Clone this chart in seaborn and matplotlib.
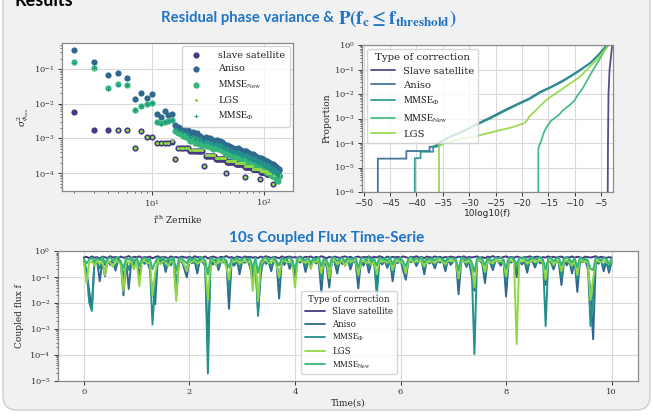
import numpy as np
import pandas as pd
import matplotlib
matplotlib.use('Agg')
import matplotlib.pyplot as plt
import matplotlib.transforms as mtransforms
from matplotlib.patches import FancyBboxPatch
from matplotlib.lines import Line2D
import seaborn as sns

# ---------------- residual phase variance per Zernike mode (2..136)
zernike = list(range(2, 137))
slave_var = ([5.9e-3, 1.8e-3, 1.8e-3, 1.8e-3, 1.8e-3, 5.2e-4, 1.6e-3, 1.07e-3, 1.07e-3]
             + [7.2e-4] * 4 + [8.0e-4] + [2.5e-4] + [5.2e-4] * 5 + [4.3e-4] * 7
             + [1.6e-4] + [3.1e-4] * 7 + [2.6e-4] * 9 + [1.0e-4] + [2.1e-4] * 9
             + [1.8e-4] * 11 + [7.9e-5] + [1.5e-4] * 11 + [1.3e-4] * 13 + [6.6e-5]
             + [1.1e-4] * 13 + [9.5e-5] * 15 + [4.9e-5] + [8.5e-5] * 15)
lgs_var = ([0.14, 0.10, 0.026, 1.8e-3, 1.8e-3, 5.2e-4, 1.6e-3, 1.07e-3, 1.07e-3]
           + [7.4e-4] * 4 + [8.2e-4] + [2.5e-4] + [5.4e-4] * 5 + [4.5e-4] * 7
           + [1.6e-4] + [3.3e-4] * 7 + [2.75e-4] * 9 + [1.0e-4] + [2.2e-4] * 9
           + [1.9e-4] * 11 + [7.9e-5] + [1.6e-4] * 11 + [1.35e-4] * 13 + [6.6e-5]
           + [1.15e-4] * 13 + [1.0e-4] * 15 + [4.9e-5] + [8.8e-5] * 15)
# values below in units of 1e-4
aniso_var = np.array([
    3500, 1600, 660, 750, 540, 137, 200, 149, 194, 50, 42, 60, 46, 52,
    24, 21, 20, 19, 18, 17,
    13, 15, 12, 14, 11, 12, 10,
    9.5, 11, 10, 9, 10.5, 8.5, 9, 8,
    8, 9, 7.5, 8.5, 7, 8, 6.5, 7, 6,
    6, 6.5, 5.5, 6, 5, 5.5, 4.8, 5.2, 4.6, 5,
    5, 4.6, 5.2, 4.4, 4.8, 4.2, 4.5, 4, 4.3, 3.8, 4,
    4.2, 3.8, 4.4, 3.6, 4, 3.4, 3.8, 3.2, 3.6, 3.1, 3.4, 3,
    3.5, 3.1, 3.4, 2.9, 3.2, 2.8, 3, 2.6, 2.9, 2.5, 2.7, 2.4, 2.6,
    2.8, 2.4, 2.7, 2.3, 2.6, 2.2, 2.5, 2.1, 2.4, 2, 2.3, 1.9, 2.2, 1.9,
    2.2, 1.9, 2.1, 1.8, 2, 1.7, 1.9, 1.6, 1.8, 1.6, 1.7, 1.5, 1.7, 1.5, 1.6,
    1.8, 1.5, 1.7, 1.4, 1.6, 1.3, 1.5, 1.3, 1.4, 1.2, 1.4, 1.2, 1.3, 1.1, 1.3, 1.2]) * 1e-4
new_var = np.array([
    1560, 1100, 280, 360, 350, 66, 85, 100, 107, 29.6, 27, 29.6, 32, 34,
    16, 14, 13, 12, 11, 10,
    8.5, 10, 7.5, 9, 7, 8, 6.5,
    6.5, 7.5, 6, 6.8, 5.5, 6.2, 5, 5.8,
    5.5, 6, 4.8, 5.5, 4.5, 5, 4.2, 4.6, 3.9,
    4, 4.4, 3.6, 4, 3.4, 3.8, 3.2, 3.5, 3, 3.3,
    3.3, 3, 3.5, 2.8, 3.2, 2.7, 3, 2.5, 2.8, 2.4, 2.6,
    2.7, 2.4, 2.9, 2.3, 2.6, 2.1, 2.5, 2, 2.3, 1.9, 2.2, 1.8,
    2.2, 1.9, 2.3, 1.8, 2.1, 1.7, 2, 1.6, 1.9, 1.5, 1.8, 1.4, 1.6,
    1.8, 1.5, 1.8, 1.4, 1.7, 1.3, 1.6, 1.2, 1.5, 1.2, 1.4, 1.1, 1.3, 1.1,
    1.4, 1.1, 1.4, 1.05, 1.3, 1, 1.25, 0.95, 1.2, 0.9, 1.1, 0.85, 1.05, 0.8, 1,
    1.1, 0.85, 1.1, 0.8, 1, 0.75, 0.95, 0.7, 0.9, 0.65, 0.85, 0.6, 0.8, 0.75, 0.9, 0.85]) * 1e-4
phi_var = np.array([
    1500, 1050, 270, 350, 340, 64, 83, 97, 104, 29, 26.5, 29, 31, 33,
    20, 17, 16, 15, 14, 13,
    11, 12, 9.5, 11, 9, 10, 8.5,
    8, 9, 8, 8, 7.5, 7.5, 7, 7,
    6.8, 7.5, 6, 7, 5.8, 6.5, 5.3, 5.8, 5,
    5, 5.5, 4.6, 5, 4.2, 4.6, 4, 4.4, 3.8, 4.1,
    4.1, 3.8, 4.3, 3.6, 4, 3.4, 3.7, 3.2, 3.5, 3.1, 3.3,
    3.4, 3.1, 3.6, 2.9, 3.3, 2.7, 3.1, 2.6, 2.9, 2.5, 2.8, 2.4,
    2.8, 2.5, 2.8, 2.3, 2.6, 2.2, 2.5, 2.1, 2.4, 2, 2.2, 1.9, 2.1,
    2.3, 1.9, 2.2, 1.8, 2.1, 1.7, 2, 1.6, 1.9, 1.6, 1.8, 1.5, 1.7, 1.5,
    1.8, 1.5, 1.7, 1.4, 1.6, 1.3, 1.55, 1.25, 1.5, 1.2, 1.4, 1.1, 1.35, 1.05, 1.3,
    1.4, 1.1, 1.35, 1.05, 1.3, 1.0, 1.2, 0.95, 1.15, 0.9, 1.1, 0.85, 1.05, 0.9, 1.1, 1.0]) * 1e-4

# ---------------- cumulative proportion vs 10log10(f)
cdf_slave_x = [-3.75, -3.7, -3.6, -3.4, -2.9]
cdf_slave_y = [1e-6, 1e-4, 1e-2, 1e-1, 1.0]
cdf_aniso_x = [-47.3, -47.3, -41.9, -41.9, -37.5, -37.5, -36.2, -36.2, -35.0, -33.7, -31.0, -28.7,
               -26.0, -23.3, -21.0, -18.6, -16.5, -14.5, -12.0, -9.2, -7.0, -5.5, -3.9]
cdf_aniso_y = [1e-6, 2.3e-5, 2.3e-5, 4.7e-5, 4.7e-5, 7e-5, 7e-5, 9e-5, 1.2e-4, 1.8e-4, 3.2e-4, 5.8e-4,
               1.1e-3, 2.2e-3, 3.8e-3, 6.6e-3, 1.25e-2, 1.95e-2, 3.8e-2, 9e-2, 1.9e-1, 4.0e-1, 1.0]
cdf_phi_x = [-40.3, -40.3, -39.2, -39.2, -36.8, -36.8, -35.6, -35.6, -34.0, -31.0, -28.7, -26.0,
             -23.3, -21.0, -18.6, -16.5, -14.5, -12.0, -9.2, -7.0, -5.5, -3.9]
cdf_phi_y = [1e-6, 2.4e-5, 2.4e-5, 4.4e-5, 4.4e-5, 7.5e-5, 7.5e-5, 1.1e-4, 1.6e-4, 3.0e-4, 5.4e-4, 1.0e-3,
             2.0e-3, 3.5e-3, 6.1e-3, 1.15e-2, 1.85e-2, 3.5e-2, 8.5e-2, 1.85e-1, 3.9e-1, 1.0]
cdf_new_x = [-16.9, -16.9, -16.6, -16.3, -15.9, -15.4, -14.5, -13.0, -12.2, -11.0, -10.1, -9.6,
             -8.5, -6.9, -5.5, -3.8]
cdf_new_y = [1e-6, 6e-5, 9e-5, 1.3e-4, 2.5e-4, 4.2e-4, 8e-4, 1.4e-3, 2.2e-3, 3.5e-3, 5.2e-3, 7.9e-3,
             1.7e-2, 7e-2, 0.22, 1.0]
cdf_lgs_x = [-35.7, -35.7, -35.2, -34.5, -32.0, -28.7, -25.0, -22.0, -19.5, -19.0, -18.6, -17.0,
             -15.4, -12.2, -9.0, -5.9, -3.5]
cdf_lgs_y = [1e-6, 8e-5, 8.5e-5, 1e-4, 1.4e-4, 1.9e-4, 3.0e-4, 4.3e-4, 6.5e-4, 8.5e-4, 1.2e-3, 2.6e-3,
             5.7e-3, 1.7e-2, 5.1e-2, 0.24, 1.0]

# ---------------- coupled flux over 10 s (one sample every 0.05 s)
flux_slave = [
    0.58, 0.62, 0.55, 0.64, 0.57, 0.60, 0.53, 0.63, 0.59, 0.56, 0.65, 0.58, 0.61, 0.54, 0.63, 0.57, 0.60, 0.66, 0.55, 0.62,
    0.59, 0.64, 0.56, 0.61, 0.58, 0.63, 0.54, 0.60, 0.65, 0.57, 0.62, 0.59, 0.55, 0.64, 0.58, 0.61, 0.56, 0.63, 0.60, 0.57,
    0.62, 0.55, 0.65, 0.59, 0.61, 0.57, 0.64, 0.53, 0.60, 0.63, 0.58, 0.56, 0.62, 0.59, 0.66, 0.57, 0.61, 0.54, 0.63, 0.60,
    0.56, 0.64, 0.59, 0.62, 0.57, 0.61, 0.55, 0.63, 0.58, 0.65, 0.60, 0.56, 0.62, 0.59, 0.54, 0.64, 0.57, 0.61, 0.63, 0.58,
    0.60, 0.57, 0.63, 0.55, 0.62, 0.59, 0.64, 0.56, 0.61, 0.58, 0.65, 0.60, 0.54, 0.62, 0.57, 0.63, 0.59, 0.56, 0.61, 0.64,
    0.58, 0.62, 0.55, 0.60, 0.63, 0.57, 0.61, 0.59, 0.64, 0.56, 0.62, 0.58, 0.65, 0.60, 0.55, 0.63, 0.57, 0.61, 0.59, 0.62,
    0.57, 0.64, 0.60, 0.56, 0.62, 0.59, 0.65, 0.58, 0.61, 0.55, 0.63, 0.60, 0.57, 0.64, 0.59, 0.62, 0.56, 0.61, 0.58, 0.63,
    0.60, 0.57, 0.63, 0.59, 0.65, 0.56, 0.62, 0.58, 0.61, 0.64, 0.57, 0.60, 0.55, 0.63, 0.59, 0.66, 0.58, 0.62, 0.56, 0.61,
    0.64, 0.58, 0.61, 0.57, 0.63, 0.60, 0.55, 0.62, 0.59, 0.65, 0.57, 0.61, 0.63, 0.56, 0.60, 0.58, 0.64, 0.59, 0.62, 0.57,
    0.61, 0.63, 0.56, 0.60, 0.58, 0.64, 0.57, 0.62, 0.59, 0.55, 0.63, 0.60, 0.58, 0.61, 0.65, 0.57, 0.62, 0.59, 0.56, 0.60,
    0.58]
flux_aniso = [
    0.42, 0.15, 0.03, 0.006, 0.38, 0.45, 0.07, 0.40, 0.11, 0.47, 0.30, 0.44, 0.18, 0.50, 0.36, 0.02, 0.41, 0.035, 0.46, 0.25,
    0.43, 0.12, 0.48, 0.33, 0.40, 0.20, 0.03, 0.009, 0.44, 0.37, 0.49, 0.16, 0.42, 0.29, 0.46, 0.02, 0.38, 0.45, 0.22, 0.10,
    0.47, 0.35, 0.41, 0.14, 0.50, 0.39, 0.27, 0.0002, 0.44, 0.31, 0.48, 0.19, 0.42, 0.37, 0.45, 0.006, 0.40, 0.28, 0.47, 0.13,
    0.43, 0.36, 0.49, 0.24, 0.08, 0.41, 0.005, 0.12, 0.46, 0.33, 0.40, 0.17, 0.48, 0.38, 0.015, 0.44, 0.30, 0.47, 0.21, 0.42,
    0.09, 0.45, 0.37, 0.50, 0.16, 0.41, 0.29, 0.46, 0.34, 0.43, 0.025, 0.48, 0.26, 0.04, 0.44, 0.39, 0.14, 0.47, 0.32, 0.42,
    0.49, 0.20, 0.43, 0.36, 0.037, 0.45, 0.28, 0.48, 0.15, 0.41, 0.38, 0.06, 0.46, 0.31, 0.44, 0.23, 0.50, 0.07, 0.40, 0.35,
    0.47, 0.18, 0.08, 0.43, 0.39, 0.49, 0.27, 0.42, 0.45, 0.13, 0.48, 0.34, 0.41, 0.22, 0.46, 0.37, 0.44, 0.17, 0.49, 0.30,
    0.42, 0.45, 0.022, 0.38, 0.47, 0.25, 0.43, 0.11, 0.03, 0.40, 0.46, 0.33, 0.06, 0.48, 0.36, 0.19, 0.44, 0.41, 0.28, 0.47,
    0.018, 0.43, 0.37, 0.49, 0.10, 0.45, 0.31, 0.42, 0.15, 0.48, 0.39, 0.24, 0.46, 0.34, 0.41, 0.05, 0.47, 0.38, 0.20, 0.44,
    0.36, 0.05, 0.49, 0.29, 0.43, 0.14, 0.46, 0.027, 0.41, 0.38, 0.48, 0.21, 0.03, 0.0004, 0.45, 0.33, 0.47, 0.17, 0.42, 0.15,
    0.40]
flux_phi = [
    0.40, 0.20, 0.011, 0.005, 0.43, 0.36, 0.22, 0.46, 0.30, 0.41, 0.38, 0.47, 0.26, 0.44, 0.40, 0.09, 0.45, 0.19, 0.42, 0.34,
    0.47, 0.28, 0.43, 0.39, 0.46, 0.31, 0.0015, 0.06, 0.41, 0.45, 0.36, 0.24, 0.48, 0.33, 0.42, 0.05, 0.44, 0.40, 0.29, 0.21,
    0.43, 0.46, 0.35, 0.27, 0.45, 0.41, 0.32, 0.000019, 0.47, 0.38, 0.42, 0.26, 0.46, 0.43, 0.37, 0.03, 0.44, 0.35, 0.41, 0.23,
    0.46, 0.40, 0.44, 0.31, 0.14, 0.47, 0.0032, 0.19, 0.42, 0.39, 0.45, 0.25, 0.43, 0.41, 0.07, 0.46, 0.36, 0.42, 0.30, 0.45,
    0.18, 0.41, 0.44, 0.47, 0.27, 0.43, 0.37, 0.40, 0.45, 0.39, 0.08, 0.44, 0.33, 0.11, 0.46, 0.42, 0.24, 0.41, 0.38, 0.45,
    0.43, 0.29, 0.47, 0.40, 0.10, 0.42, 0.35, 0.44, 0.26, 0.46, 0.41, 0.018, 0.43, 0.38, 0.47, 0.30, 0.44, 0.14, 0.42, 0.39,
    0.45, 0.27, 0.16, 0.46, 0.41, 0.43, 0.34, 0.47, 0.40, 0.22, 0.44, 0.38, 0.46, 0.29, 0.42, 0.41, 0.47, 0.25, 0.43, 0.37,
    0.46, 0.40, 0.08, 0.44, 0.42, 0.31, 0.47, 0.20, 0.000107, 0.43, 0.45, 0.39, 0.12, 0.41, 0.46, 0.28, 0.43, 0.44, 0.35, 0.40,
    0.07, 0.46, 0.42, 0.44, 0.18, 0.41, 0.37, 0.47, 0.24, 0.43, 0.45, 0.32, 0.40, 0.42, 0.46, 0.0013, 0.44, 0.39, 0.27, 0.41,
    0.43, 0.10, 0.45, 0.36, 0.47, 0.22, 0.42, 0.08, 0.46, 0.40, 0.44, 0.30, 0.0013, 0.02, 0.41, 0.39, 0.45, 0.26, 0.43, 0.21,
    0.44]
flux_lgs = [
    0.38, 0.06, 0.35, 0.42, 0.28, 0.45, 0.33, 0.40, 0.12, 0.44, 0.37, 0.25, 0.46, 0.39, 0.31, 0.03, 0.43, 0.36, 0.41, 0.20,
    0.44, 0.045, 0.40, 0.46, 0.34, 0.38, 0.02, 0.15, 0.45, 0.32, 0.42, 0.39, 0.27, 0.44, 0.36, 0.012, 0.41, 0.46, 0.30, 0.17,
    0.42, 0.39, 0.45, 0.33, 0.40, 0.44, 0.36, 0.013, 0.41, 0.46, 0.29, 0.43, 0.38, 0.45, 0.24, 0.08, 0.42, 0.39, 0.46, 0.34,
    0.40, 0.44, 0.37, 0.42, 0.03, 0.45, 0.012, 0.31, 0.43, 0.46, 0.35, 0.40, 0.44, 0.28, 0.10, 0.41, 0.45, 0.38, 0.42, 0.33,
    0.04, 0.43, 0.46, 0.40, 0.36, 0.44, 0.21, 0.42, 0.39, 0.45, 0.14, 0.41, 0.37, 0.09, 0.43, 0.46, 0.32, 0.40, 0.44, 0.27,
    0.45, 0.38, 0.42, 0.46, 0.12, 0.40, 0.43, 0.35, 0.44, 0.30, 0.41, 0.13, 0.45, 0.39, 0.42, 0.36, 0.46, 0.19, 0.43, 0.40,
    0.41, 0.33, 0.14, 0.44, 0.46, 0.38, 0.42, 0.40, 0.45, 0.26, 0.43, 0.39, 0.41, 0.35, 0.46, 0.44, 0.40, 0.31, 0.45, 0.42,
    0.43, 0.39, 0.09, 0.46, 0.40, 0.37, 0.44, 0.29, 0.04, 0.42, 0.45, 0.41, 0.16, 0.43, 0.38, 0.34, 0.46, 0.40, 0.44, 0.36,
    0.11, 0.42, 0.45, 0.39, 0.00026, 0.43, 0.40, 0.46, 0.33, 0.41, 0.44, 0.38, 0.42, 0.45, 0.36, 0.08, 0.43, 0.46, 0.30, 0.40,
    0.44, 0.17, 0.41, 0.45, 0.38, 0.28, 0.43, 0.12, 0.46, 0.40, 0.42, 0.35, 0.013, 0.09, 0.44, 0.41, 0.37, 0.45, 0.39, 0.32,
    0.42]
flux_new = [
    0.52, 0.34, 0.48, 0.57, 0.41, 0.55, 0.45, 0.60, 0.37, 0.51, 0.58, 0.43, 0.54, 0.61, 0.39, 0.23, 0.56, 0.47, 0.59, 0.42,
    0.55, 0.30, 0.50, 0.58, 0.44, 0.53, 0.20, 0.38, 0.57, 0.49, 0.60, 0.40, 0.54, 0.46, 0.59, 0.18, 0.51, 0.56, 0.43, 0.34,
    0.58, 0.48, 0.55, 0.41, 0.60, 0.53, 0.45, 0.13, 0.57, 0.50, 0.42, 0.56, 0.48, 0.59, 0.39, 0.24, 0.54, 0.47, 0.58, 0.44,
    0.51, 0.57, 0.49, 0.55, 0.22, 0.59, 0.15, 0.40, 0.54, 0.58, 0.46, 0.52, 0.60, 0.43, 0.29, 0.56, 0.48, 0.53, 0.58, 0.41,
    0.21, 0.55, 0.59, 0.50, 0.45, 0.57, 0.37, 0.54, 0.49, 0.60, 0.27, 0.53, 0.46, 0.25, 0.56, 0.58, 0.42, 0.52, 0.55, 0.39,
    0.59, 0.47, 0.54, 0.57, 0.23, 0.52, 0.56, 0.44, 0.60, 0.40, 0.53, 0.28, 0.58, 0.49, 0.55, 0.43, 0.61, 0.31, 0.54, 0.50,
    0.57, 0.41, 0.26, 0.55, 0.59, 0.48, 0.53, 0.52, 0.60, 0.37, 0.56, 0.49, 0.54, 0.45, 0.58, 0.55, 0.50, 0.40, 0.57, 0.53,
    0.55, 0.49, 0.19, 0.58, 0.52, 0.46, 0.56, 0.39, 0.16, 0.54, 0.59, 0.50, 0.29, 0.55, 0.48, 0.44, 0.58, 0.53, 0.57, 0.47,
    0.22, 0.54, 0.58, 0.49, 0.31, 0.56, 0.52, 0.60, 0.43, 0.53, 0.57, 0.48, 0.55, 0.59, 0.46, 0.20, 0.54, 0.58, 0.41, 0.52,
    0.56, 0.29, 0.53, 0.59, 0.49, 0.38, 0.55, 0.24, 0.58, 0.50, 0.54, 0.45, 0.21, 0.19, 0.57, 0.52, 0.48, 0.56, 0.51, 0.33,
    0.54]

pal = sns.color_palette('viridis', 5)
c_slave, c_aniso, c_phi, c_new, c_lgs = pal
lab_phi = r'$\mathrm{MMSE}_{\Phi}$'
lab_new = r'$\mathrm{MMSE}_{\mathrm{New}}$'
blue = '#1f74c6'

sns.set_theme(style='whitegrid', rc={
    'axes.edgecolor': '#8a8a8a', 'axes.linewidth': 0.9,
    'grid.color': '#dadada', 'grid.linewidth': 0.8,
    'xtick.bottom': True, 'ytick.left': True,
    'xtick.major.size': 3, 'ytick.major.size': 3,
    'xtick.minor.size': 1.6, 'ytick.minor.size': 1.6,
    'xtick.major.width': 0.7, 'ytick.major.width': 0.7,
    'xtick.minor.width': 0.5, 'ytick.minor.width': 0.5,
    'xtick.color': '#333333', 'ytick.color': '#333333',
    'xtick.major.pad': 2, 'ytick.major.pad': 2,
    'xtick.labelsize': 6, 'ytick.labelsize': 6,
    'axes.labelsize': 6.5, 'axes.labelcolor': '#222222',
})
plt.rcParams['font.family'] = ['DejaVu Serif', 'DejaVu Sans']
plt.rcParams['mathtext.fontset'] = 'dejavuserif'

W, H = 653, 416
fig = plt.figure(figsize=(W / 100, H / 100), dpi=100, facecolor='white')

# rounded grey panel behind everything
panel = FancyBboxPatch((3, 6), 647, 460, boxstyle='round,pad=0,rounding_size=14',
                       transform=mtransforms.IdentityTransform(),
                       facecolor='#f1f1f1', edgecolor='#cdcdcd', lw=1, zorder=-10)
fig.patches.append(panel)


def box(l, t, r, b):
    return [l / W, 1 - b / H, (r - l) / W, (b - t) / H]


def legprop(size):
    return dict(family='DejaVu Serif', size=size, math_fontfamily='stix')


# ---------------- top left: residual variance scatter
ax1 = fig.add_axes(box(62, 43, 293, 191))
sns.scatterplot(x=zernike, y=slave_var, ax=ax1, color=c_slave, s=20, linewidth=0,
                label='slave satellite', zorder=3)
sns.scatterplot(x=zernike, y=aniso_var, ax=ax1, color=c_aniso, s=20, linewidth=0,
                label='Aniso', zorder=3)
sns.scatterplot(x=zernike, y=new_var, ax=ax1, color=c_new, s=20, linewidth=0,
                label=lab_new, zorder=3)
sns.scatterplot(x=zernike, y=lgs_var, ax=ax1, color=c_lgs, s=5, linewidth=0,
                label='LGS', zorder=3)
sns.scatterplot(x=zernike, y=phi_var, ax=ax1, color=c_phi, s=10, marker='+', linewidth=0.7,
                label=lab_phi, zorder=3)
ax1.set_xscale('log')
ax1.set_yscale('log')
ax1.set_xlim(1.57, 181)
ax1.set_ylim(3.05e-5, 0.56)
ax1.set_xlabel(r'$\mathrm{i^{th}}$ Zernike', labelpad=3)
ax1.set_ylabel(r'$\sigma^2_{\phi_{res}}$', labelpad=2)
ax1.legend(loc='upper right', prop=legprop(6.9), frameon=True, borderaxespad=0.3,
           handletextpad=1.3, labelspacing=0.5, borderpad=0.5)

# ---------------- top right: cumulative proportion
ax2 = fig.add_axes(box(362, 45, 613, 192))
for xs, ys, c, lab in [(cdf_slave_x, cdf_slave_y, c_slave, 'Slave satellite'),
                       (cdf_aniso_x, cdf_aniso_y, c_aniso, 'Aniso'),
                       (cdf_phi_x, cdf_phi_y, c_phi, lab_phi),
                       (cdf_new_x, cdf_new_y, c_new, lab_new),
                       (cdf_lgs_x, cdf_lgs_y, c_lgs, 'LGS')]:
    sns.lineplot(x=xs, y=ys, ax=ax2, color=c, lw=1.3, alpha=0.9, sort=False,
                 estimator=None, label=lab)
ax2.set_yscale('log')
ax2.set_ylim(1e-6, 1)
ax2.set_xlim(-50.3, -2.75)
ax2.set_xticks(range(-50, 0, 5))
ax2.tick_params(axis='x', labelfontfamily='DejaVu Sans', labelsize=6.5)
ax2.set_xlabel('10log10(f)', family='DejaVu Sans', labelpad=1)
ax2.set_ylabel('Proportion', labelpad=2)
leg2 = ax2.legend(loc='upper left', bbox_to_anchor=(0.02, 0.975), borderaxespad=0,
                  title='Type of correction', prop=legprop(7.2), title_fontsize=7.4,
                  handlelength=2.4, labelspacing=0.5)
leg2.get_title().set_family('DejaVu Serif')

# ---------------- bottom: coupled flux time series
ax3 = fig.add_axes(box(57.5, 251.4, 638, 380.7))
frames = []
for vals, lab in [(flux_slave, 'Slave satellite'), (flux_aniso, 'Aniso'),
                  (flux_phi, lab_phi), (flux_lgs, 'LGS'), (flux_new, lab_new)]:
    frames.append(pd.DataFrame({'t': np.linspace(0, 10, len(vals)), 'f': vals, 'kind': lab}))
flux = pd.concat(frames, ignore_index=True)
order3 = ['Slave satellite', 'Aniso', lab_phi, 'LGS', lab_new]
colors3 = [c_slave, c_aniso, c_phi, c_lgs, c_new]
sns.lineplot(data=flux, x='t', y='f', hue='kind', hue_order=order3,
             palette=dict(zip(order3, colors3)),
             estimator=None, lw=1.4, ax=ax3, legend=False)
ax3.set_yscale('log')
ax3.set_ylim(1e-5, 1)
ax3.set_xlim(-0.5, 10.5)
ax3.set_xticks([0, 2, 4, 6, 8, 10])
ax3.set_xlabel('Time(s)', labelpad=2)
ax3.set_ylabel('Coupled flux f', labelpad=4)
h3 = [Line2D([], [], color=c, lw=1.3) for c in colors3]
leg3 = ax3.legend(h3, order3, loc='upper left', bbox_to_anchor=(0.42, 0.69), borderaxespad=0,
                  title='Type of correction', prop=legprop(6.2), title_fontsize=6.3,
                  handlelength=2.4, labelspacing=0.4)
leg3.get_title().set_family('DejaVu Serif')

# ---------------- headings
fig.text(334 / W, 1 - 18 / H, 'Residual phase variance &', ha='right', va='center',
         color=blue, fontsize=10.7, fontweight='bold', family='Lato')
fig.text(338 / W, 1 - 18.5 / H, r'$\mathbf{P(f_c \leq f_{threshold})}$', ha='left', va='center',
         color=blue, fontsize=13.5, math_fontfamily='stix')
fig.text(0.5, 1 - 238 / H, '10s Coupled Flux Time-Serie', ha='center', va='center',
         color=blue, fontsize=11, fontweight='bold', family='Lato')
fig.text(14 / W, 1 - 6 / H, 'Results', ha='left', va='baseline', color='black',
         fontsize=13, fontweight='bold', family='Lato')

fig.savefig('out.png', dpi=100)
